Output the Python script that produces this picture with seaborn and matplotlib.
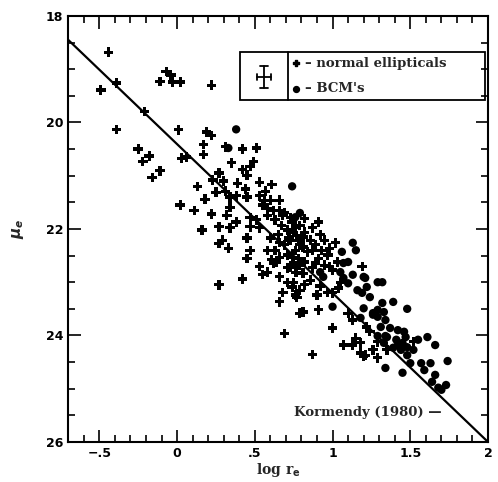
import matplotlib
matplotlib.use('Agg')
import matplotlib.pyplot as plt
from matplotlib.patches import Rectangle
from matplotlib.ticker import MultipleLocator, FixedLocator
import pandas as pd
import seaborn as sns

# normal ellipticals (log r_e, mu_e)
ell_logr = [-0.44, -0.49, -0.39, -0.21, -0.07, -0.04, -0.11, -0.03, 0.02, 0.22,
            -0.39, 0.01, 0.19, 0.22, -0.25, -0.18, -0.22, -0.11, -0.16, 0.03,
            0.06, 0.17, 0.17, 0.31, 0.42, 0.51, 0.35, 0.49, 0.47, 0.42,
            0.27, 0.45, 0.23, 0.30, 0.39, 0.53, 0.61, 0.13, 0.44, 0.31,
            0.34, 0.38, 0.45, 0.53, 0.57, 0.56, 0.60, 0.18, 0.02, 0.11,
            0.22, 0.34, 0.32, 0.25, 0.66, 0.38, 0.47, 0.51, 0.58, 0.62,
            0.69, 0.73, 0.16, 0.27, 0.34, 0.47, 0.53, 0.29, 0.27, 0.33,
            0.45, 0.60, 0.47, 0.58, 0.66, 0.75, 0.73, 0.45, 0.61, 0.66,
            0.74, 0.53, 0.55, 0.58, 0.62, 0.64, 0.66, 0.73, 0.77, 0.42,
            0.27, 0.71, 0.74, 0.68, 0.66, 0.77, 0.79, 0.69,
            0.63, 0.67, 0.71, 0.65, 0.69, 0.76, 0.78, 0.68, 0.74, 0.76,
            0.63, 0.71, 0.78,
            0.79, 0.82, 0.86, 0.89, 0.93, 0.79, 0.84, 0.91, 0.97, 0.95,
            0.87, 0.98, 0.82, 0.91, 0.92, 1.02, 0.81,
            0.75, 0.79, 0.82, 0.87, 0.76, 0.81, 0.98, 1.03, 1.19, 0.75,
            0.82, 0.76, 0.90, 0.97, 1.00, 1.04, 0.81, 0.91, 1.10, 1.13,
            1.22, 1.00, 1.24, 1.15, 1.18, 1.07, 1.29, 1.26, 0.87, 1.18,
            1.20, 1.29, 1.35, 1.13, 1.21, 1.52,
            0.55, 0.58, 0.66, 0.72, 0.77, 0.81, 0.87, 0.89, 0.95, 1.00,
            1.05, 0.86, 0.79, 0.71, 0.92]
ell_mu = [18.68, 19.39, 19.26, 19.79, 19.04, 19.11, 19.23, 19.24, 19.24, 19.30,
          20.13, 20.14, 20.18, 20.24, 20.50, 20.63, 20.73, 20.91, 21.03, 20.67,
          20.65, 20.41, 20.60, 20.46, 20.50, 20.48, 20.76, 20.73, 20.82, 20.88,
          20.95, 20.99, 21.08, 21.10, 21.14, 21.12, 21.16, 21.20, 21.25, 21.29,
          21.40, 21.38, 21.40, 21.38, 21.29, 21.46, 21.46, 21.44, 21.55, 21.65,
          21.72, 21.59, 21.74, 21.31, 21.46, 21.87, 21.78, 21.83, 21.61, 21.65,
          21.69, 21.78, 22.02, 21.96, 21.98, 21.96, 21.98, 22.21, 22.27, 22.36,
          22.17, 22.17, 22.40, 22.40, 22.25, 22.06, 22.21, 22.55, 22.58, 22.53,
          22.53, 22.70, 22.86, 22.81, 22.64, 22.62, 22.90, 22.72, 22.81, 22.94,
          23.05, 23.00, 23.09, 23.19, 23.37, 23.28, 23.58, 23.96,
          21.83, 21.93, 22.02, 22.11, 22.30, 22.40, 22.21, 21.74, 21.87, 21.98,
          22.40, 22.49, 22.55,
          21.93, 22.06, 22.21, 22.30, 22.40, 22.30, 22.43, 22.55, 22.49, 22.21,
          21.98, 22.36, 21.80, 21.87, 22.11, 22.26, 22.15,
          22.64, 22.68, 22.62, 22.73, 22.81, 22.83, 22.71, 22.62, 22.71, 23.00,
          23.05, 23.24, 23.24, 23.19, 23.20, 23.11, 23.56, 23.52, 23.58, 23.71,
          23.84, 23.86, 23.93, 24.05, 24.14, 24.18, 24.12, 24.27, 24.36, 24.33,
          24.40, 24.42, 24.27, 24.18, 24.37, 24.12,
          21.55, 21.74, 21.65, 22.17, 22.13, 22.34, 22.40, 22.64, 22.68, 22.77,
          23.00, 22.96, 23.15, 22.73, 23.07]

# brightest cluster members
bcm_logr = [0.38, 0.33, 0.74, 0.79, 0.76, 1.13, 1.06, 1.15,
            0.92, 0.94, 1.07, 1.10, 1.05, 1.07, 1.10, 1.13, 1.20, 1.22,
            1.29, 1.16, 1.19, 1.24, 1.00, 1.18, 1.20, 1.26, 1.29, 1.32,
            1.29, 1.34, 1.29, 1.34, 1.32, 1.39, 1.48, 1.33, 1.31, 1.37,
            1.42, 1.46, 1.35, 1.33, 1.41, 1.45, 1.48, 1.55, 1.61, 1.66,
            1.39, 1.44, 1.52, 1.48, 1.34, 1.45, 1.50, 1.57, 1.63, 1.74,
            1.59, 1.66, 1.64, 1.68, 1.73, 1.70, 1.26, 1.21, 1.47, 1.42]
bcm_mu = [20.13, 20.48, 21.20, 21.70, 21.78, 22.26, 22.43, 22.40,
          22.81, 22.90, 22.64, 22.62, 22.81, 22.92, 23.02, 22.86, 22.90, 23.09,
          23.00, 23.15, 23.20, 23.28, 23.46, 23.67, 23.49, 23.58, 23.52, 23.39,
          23.65, 23.71, 24.01, 24.01, 23.00, 23.37, 23.50, 23.56, 23.84, 23.86,
          23.90, 23.93, 24.03, 24.14, 24.08, 24.14, 24.22, 24.08, 24.03, 24.18,
          24.23, 24.27, 24.27, 24.37, 24.61, 24.70, 24.52, 24.52, 24.52, 24.48,
          24.65, 24.74, 24.87, 24.98, 24.93, 25.02, 23.61, 22.92, 24.03, 24.18]

# Kormendy (1980) relation
line_logr = [-0.7, 2.0]
line_mu = [18.45, 26.0]

ell = pd.DataFrame({'logr': ell_logr, 'mu': ell_mu})
bcm = pd.DataFrame({'logr': bcm_logr, 'mu': bcm_mu})
rel = pd.DataFrame({'logr': line_logr, 'mu': line_mu})

sns.set_style('ticks')
plt.rcParams['font.family'] = ['DejaVu Serif']
plt.rcParams['font.weight'] = 'bold'

fig = plt.figure(figsize=(4.98, 4.82), dpi=100)
ax = fig.add_axes([0.137, 0.083, 0.843, 0.884])

sns.lineplot(data=rel, x='logr', y='mu', color='black', lw=1.6, ax=ax)
sns.scatterplot(data=ell, x='logr', y='mu', marker='P', s=46, color='black',
                edgecolor='none', ax=ax)
sns.scatterplot(data=bcm, x='logr', y='mu', marker='o', s=36, color='black',
                edgecolor='none', ax=ax)

ax.set_xlim(-0.7, 2.0)
ax.set_ylim(26, 18)
ax.xaxis.set_major_locator(FixedLocator([-0.5, 0, 0.5, 1, 1.5, 2]))
ax.set_xticklabels(['\u2212.5', '0', '.5', '1', '1.5', '2'])
ax.xaxis.set_minor_locator(MultipleLocator(0.1))
ax.yaxis.set_major_locator(MultipleLocator(2))
ax.yaxis.set_minor_locator(MultipleLocator(0.5))
ax.tick_params(which='both', direction='in', top=True, right=True, width=1.2,
               labelsize=9, colors='black')
ax.tick_params(which='major', length=9)
ax.tick_params(which='minor', length=5)
for lab in ax.get_xticklabels() + ax.get_yticklabels():
    lab.set_family('DejaVu Sans')
    lab.set_fontweight('bold')
for sp in ax.spines.values():
    sp.set_linewidth(1.5)
    sp.set_color('black')

ax.set_xlabel(r'log r$_\mathbf{e}$', fontsize=10, fontweight='bold', labelpad=1)
ax.set_ylabel(r'$\mu_e$', fontsize=11, labelpad=14)

# legend box drawn by hand
ax.add_patch(Rectangle((0.409, 0.802), 0.584, 0.113, transform=ax.transAxes,
                       fill=False, lw=1.3, color='black'))
ax.plot([0.523, 0.523], [0.802, 0.915], transform=ax.transAxes, color='black', lw=1.3)
# error bar glyph
ax.plot([0.466, 0.466], [0.830, 0.882], transform=ax.transAxes, color='black', lw=1.3)
ax.plot([0.449, 0.483], [0.856, 0.856], transform=ax.transAxes, color='black', lw=1.3)
ax.plot([0.456, 0.476], [0.882, 0.882], transform=ax.transAxes, color='black', lw=1.3)
ax.plot([0.456, 0.476], [0.830, 0.830], transform=ax.transAxes, color='black', lw=1.3)
ax.plot([0.449, 0.449], [0.849, 0.863], transform=ax.transAxes, color='black', lw=1.3)
ax.plot([0.483, 0.483], [0.849, 0.863], transform=ax.transAxes, color='black', lw=1.3)
ax.scatter([0.543], [0.889], marker='P', s=22, color='black', transform=ax.transAxes)
ax.scatter([0.543], [0.829], marker='o', s=18, color='black', transform=ax.transAxes)
ax.text(0.565, 0.889, '\u2013 normal ellipticals', transform=ax.transAxes,
        fontsize=9.5, fontweight='bold', va='center', ha='left')
ax.text(0.565, 0.829, "\u2013 BCM's", transform=ax.transAxes,
        fontsize=9.5, fontweight='bold', va='center', ha='left')

ax.text(0.538, 0.070, 'Kormendy (1980) \u2014', transform=ax.transAxes,
        fontsize=9.5, fontweight='bold', va='center', ha='left')

fig.savefig('out.png', dpi=100)
